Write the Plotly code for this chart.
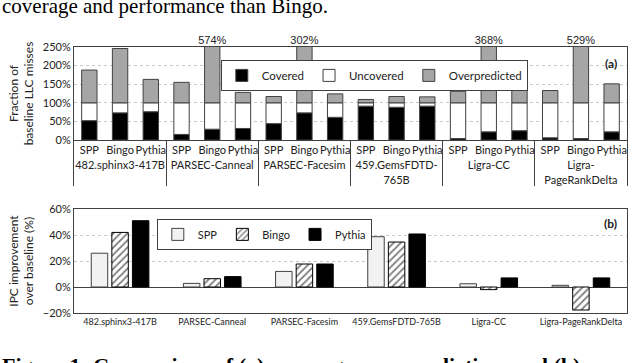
import plotly.graph_objects as go

# benchmarks and prefetchers
groups = ["482.sphinx3-417B", "PARSEC-Canneal", "PARSEC-Facesim",
          "459.GemsFDTD-765B", "Ligra-CC", "Ligra-PageRankDelta"]
groups_wrapped = ["482.sphinx3-417B", "PARSEC-Canneal", "PARSEC-Facesim",
                  "459.GemsFDTD-<br>765B", "Ligra-CC", "Ligra-<br>PageRankDelta"]
prefetchers = ["SPP", "Bingo", "Pythia"]

# (a) fraction of baseline LLC misses (%), order: SPP, Bingo, Pythia per benchmark
covered = [52, 73, 76, 15, 29, 31, 44, 73, 61, 91, 88, 91, 4, 22, 25, 6, 4, 22]
total = [188, 246, 163, 155, 574, 128, 117, 302, 124, 109, 117, 116,
         131, 368, 156, 133, 529, 151]

# (b) IPC improvement over baseline (%)
ipc_spp = [26, 2.8, 12, 38.7, 2.5, 1.3]
ipc_bingo = [42, 6.4, 17.7, 34.6, -2, -17.7]
ipc_pythia = [51, 8, 17.7, 40.8, 7, 7]

FONT = "Lato"
EDGE = "#404040"

x_multi = [[g for g in groups_wrapped for _ in prefetchers], prefetchers * len(groups)]

uncovered = [100 - c for c in covered]
overpred = [t - 100 for t in total]

fig = go.Figure()

# --- (a) stacked bars built with explicit bases
fig.add_trace(go.Bar(x=x_multi, y=covered, base=[0] * len(covered), name="Covered",
                     marker=dict(color="black", line=dict(color=EDGE, width=1)),
                     offsetgroup="a", width=0.5, legend="legend"))
fig.add_trace(go.Bar(x=x_multi, y=uncovered, base=covered, name="Uncovered",
                     marker=dict(color="white", line=dict(color=EDGE, width=1)),
                     offsetgroup="a", width=0.5, legend="legend"))
fig.add_trace(go.Bar(x=x_multi, y=overpred, base=[100] * len(overpred), name="Overpredicted",
                     marker=dict(color="#a6a6a6", line=dict(color=EDGE, width=1)),
                     offsetgroup="a", width=0.5, legend="legend"))

# labels for bars clipped by the axis range
clip_x = [[], []]
clip_txt = []
for i, t in enumerate(total):
    if t > 250:
        clip_x[0].append(x_multi[0][i])
        clip_x[1].append(x_multi[1][i])
        clip_txt.append(f"{t}%")
fig.add_trace(go.Scatter(x=clip_x, y=[250] * len(clip_txt), text=clip_txt, mode="text",
                         textposition="top center", cliponaxis=False, showlegend=False,
                         textfont=dict(family="Liberation Sans", size=11, color="#222")))

# --- (b) grouped bars
fig.add_trace(go.Bar(x=groups, y=ipc_spp, name="SPP", xaxis="x2", yaxis="y2",
                     marker=dict(color="#f2f2f2", line=dict(color=EDGE, width=1)),
                     legend="legend2"))
fig.add_trace(go.Bar(x=groups, y=ipc_bingo, name="Bingo", xaxis="x2", yaxis="y2",
                     marker=dict(color="white", line=dict(color="black", width=1),
                                 pattern=dict(shape="/", fgcolor="black", bgcolor="white",
                                              size=5, solidity=0.35)),
                     legend="legend2"))
fig.add_trace(go.Bar(x=groups, y=ipc_pythia, name="Pythia", xaxis="x2", yaxis="y2",
                     marker=dict(color="black", line=dict(color="black", width=1)),
                     legend="legend2"))

xdom = [0.1156, 0.9797]
grid = dict(gridcolor="#c8c8c8", griddash="dot", gridwidth=1)

fig.update_layout(
    width=640, height=363,
    margin=dict(l=0, r=0, t=0, b=0),
    paper_bgcolor="white", plot_bgcolor="white",
    font=dict(family=FONT, size=11, color="#222"),
    barmode="group", bargap=0.33, bargroupgap=0.2,
    xaxis=dict(domain=xdom, anchor="y", type="multicategory", showline=True,
               linecolor=EDGE, mirror=True, dividercolor=EDGE, dividerwidth=1,
               tickangle=0, automargin=False, tickfont=dict(size=11)),
    yaxis=dict(domain=[0.6143, 0.8705], anchor="x", range=[0, 250], dtick=50,
               ticksuffix="%", showline=True, linecolor=EDGE, mirror=True,
               zeroline=False, automargin=False, tickfont=dict(size=11),
               title=dict(text="Fraction of<br>baseline LLC misses", font=dict(size=12),
                          standoff=6), **grid),
    xaxis2=dict(domain=xdom, anchor="y2", type="category", showline=True,
                linecolor=EDGE, mirror=True, tickangle=0, automargin=False,
                tickfont=dict(size=9)),
    yaxis2=dict(domain=[0.1377, 0.4242], anchor="x2", range=[-20, 60], dtick=20,
                ticksuffix="%", showline=True, linecolor=EDGE, mirror=True,
                zeroline=True, zerolinecolor=EDGE, zerolinewidth=1,
                automargin=False, tickfont=dict(size=11),
                title=dict(text="IPC improvement<br>over baseline (%)", font=dict(size=12),
                           standoff=6), **grid),
    legend=dict(x=0.345, y=0.835, xanchor="left", yanchor="top", orientation="h",
                bgcolor="white", bordercolor=EDGE, borderwidth=1,
                font=dict(size=11.5), itemwidth=30),
    legend2=dict(x=0.245, y=0.397, xanchor="left", yanchor="top", orientation="h",
                 bgcolor="white", bordercolor=EDGE, borderwidth=1,
                 font=dict(size=11), itemwidth=30),
    annotations=[
        dict(text="<b>(a)</b>", xref="x domain", yref="y domain", x=0.985, y=0.92,
             xanchor="right", yanchor="top", showarrow=False, font=dict(size=12)),
        dict(text="<b>(b)</b>", xref="x2 domain", yref="y2 domain", x=0.985, y=0.95,
             xanchor="right", yanchor="top", showarrow=False, font=dict(size=12)),
        dict(text="coverage and performance than Bingo.", xref="paper", yref="paper",
             x=0, y=1 - 6 / 363, xanchor="left", yanchor="middle", showarrow=False,
             font=dict(family="Liberation Serif", size=21, color="black")),
        dict(text="<b>Figure 1: Comparison of (a) coverage, overprediction, and (b)</b>",
             xref="paper", yref="paper", x=0, y=1 - 351 / 363, xanchor="left",
             yanchor="top", showarrow=False,
             font=dict(family="Liberation Serif", size=22, color="black")),
    ],
)

# remove the default page margin so the figure sits at the window's corner
fig.write_html("out.html", config={"displayModeBar": False},
               post_script="document.body.style.margin='0';")
